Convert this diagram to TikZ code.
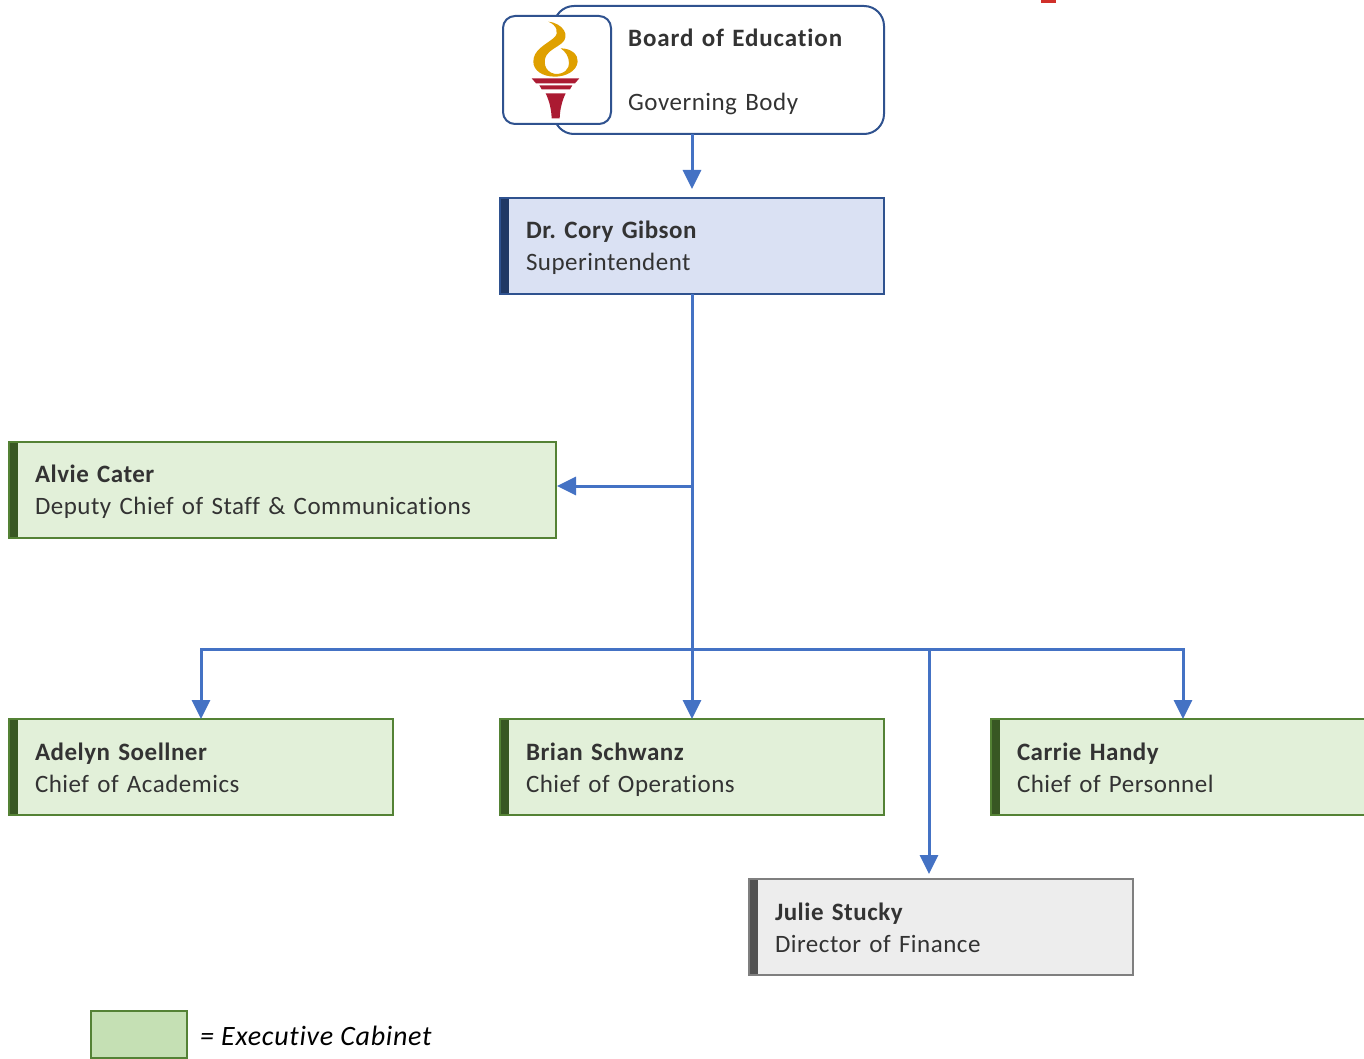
\documentclass[tikz,border=0pt]{standalone}
\usepackage{fontspec}
\setmainfont{Carlito}[LetterSpace=2,Ligatures=NoCommon]
\newfontfamily\legendfont{Carlito}[LetterSpace=2.6,Ligatures=NoCommon]
\usetikzlibrary{arrows.meta}
\definecolor{navyline}{HTML}{2F528F}
\definecolor{navyband}{HTML}{203864}
\definecolor{bluefill}{HTML}{DAE1F3}
\definecolor{greenline}{HTML}{548235}
\definecolor{greenband}{HTML}{385723}
\definecolor{greenfill}{HTML}{E2F0D9}
\definecolor{grayline}{HTML}{7F7F7F}
\definecolor{grayband}{HTML}{525252}
\definecolor{grayfill}{HTML}{EDEDED}
\definecolor{conn}{HTML}{4472C4}
\definecolor{inktext}{HTML}{333333}
\definecolor{flame}{HTML}{DFA000}
\definecolor{torchred}{HTML}{AB1A32}
\definecolor{legendfill}{HTML}{C5E0B4}
\definecolor{redmark}{HTML}{D0302A}
\tikzset{
  x=1pt,y=-1pt,
  card/.style n args={3}{draw=#1,line width=2pt,fill=#2,rectangle,outer sep=0pt,
    minimum width=384pt,minimum height=96pt,inner xsep=26pt,inner ysep=0pt,
    text width=332pt,align=left,text=inktext,
    text height=22.5pt,text depth=37.5pt,
    font=\fontsize{25}{32}\selectfont,
    path picture={\fill[#3] (path picture bounding box.north west) rectangle
      ([xshift=9pt]path picture bounding box.south west);}},
  bluecard/.style={card={navyline}{bluefill}{navyband}},
  greencard/.style={card={greenline}{greenfill}{greenband}},
  graycard/.style={card={grayline}{grayfill}{grayband}},
  lowrow/.style={text height=23.5pt,text depth=36.5pt},
  conn/.style={draw=conn,line width=3pt,-{Triangle[length=19pt,width=18pt]}},
  connplain/.style={draw=conn,line width=3pt},
}
\begin{document}
\begin{tikzpicture}
\useasboundingbox (0,0) rectangle (1364,1059);
\clip (0,0) rectangle (1364,1059);
% board
\node[draw=navyline,line width=2pt,fill=white,rounded corners=20pt,rectangle,outer sep=0pt,
  minimum width=330pt,minimum height=128pt] (board) at (719,70) {};
\node[draw=navyline,line width=2pt,fill=white,rounded corners=12pt,rectangle,outer sep=0pt,
  minimum width=108pt,minimum height=108pt] (logo) at (557,70) {};
\node[anchor=west,inner sep=0pt,text width=250pt,align=left,text=inktext,font=\fontsize{25}{32}\selectfont,
  text height=22.5pt,text depth=69.5pt] (boardtext) at (628,70)
  {{\addfontfeatures{LetterSpace=3.5}\textbf{Board of Education}}\\[0pt]\mbox{}\\[0pt]Governing Body};
% torch
\begin{scope}[shift={(500,10)},x=0.3333pt,y=-0.3333pt]
\fill[flame] (145,35) .. controls (190,40) and (212,78) .. (185,100)
  .. controls (170,112) and (150,120) .. (140,135)
  .. controls (130,150) and (130,185) .. (165,192)
  .. controls (195,193) and (207,175) .. (207,160)
  .. controls (207,140) and (197,125) .. (182,115)
  .. controls (215,115) and (235,135) .. (233,155)
  .. controls (230,185) and (195,200) .. (165,200)
  .. controls (125,200) and (100,180) .. (100,155)
  .. controls (100,120) and (135,105) .. (160,85)
  .. controls (180,70) and (170,45) .. (145,35) -- cycle;
\fill[torchred] (95,205) -- (238,205) -- (225,220) -- (108,220) -- cycle;
\fill[torchred] (118,226) -- (217,226) -- (210,238) -- (125,238) -- cycle;
\fill[torchred] (137,250) -- (197,250) .. controls (185,275) and (180,300) .. (179,325)
  -- (155,325) .. controls (154,300) and (149,275) .. (137,250) -- cycle;
\end{scope}
% cards
\node[bluecard] (sup) at (692,246) {\textbf{Dr.\ Cory Gibson}\\Superintendent};
\node[greencard,minimum width=547pt,text width=495pt] (alvie) at (282.5,490) {\textbf{Alvie Cater}\\Deputy Chief of Staff \& Communications};
\node[greencard,lowrow] (adelyn) at (201,767) {\textbf{Adelyn Soellner}\\Chief of Academics};
\node[greencard,lowrow] (brian) at (692,767) {\textbf{Brian Schwanz}\\Chief of Operations};
\node[greencard,lowrow] (carrie) at (1183,767) {\textbf{Carrie Handy}\\Chief of Personnel};
\node[graycard,lowrow] (julie) at (941,927) {\textbf{Julie Stucky}\\Director of Finance};
% junctions
\coordinate (jalvie) at (692,486);
\coordinate (jbus) at (692,649);
\coordinate (jleft) at (201,649);
\coordinate (jright) at (1183,649);
\coordinate (jfin) at (929,649);
\coordinate (alvieend) at (557,486);
\coordinate (julieend) at (929,874);
% connectors
\draw[conn,shorten >=9pt] (board.south -| sup.north) -- (sup.north);
\draw[connplain] (sup.south) -- (jbus);
\draw[conn] (jalvie) -- (alvieend);
\draw[conn] (jbus) -- (brian.north);
\draw[conn] (jleft) -- (adelyn.north);
\draw[conn] (jright) -- (carrie.north);
\draw[connplain,line cap=rect] (jleft) -- (jright);
\draw[conn] (jfin) -- (julieend);
% legend
\node[draw=greenline,line width=2pt,fill=legendfill,rectangle,outer sep=0pt,
  minimum width=96pt,minimum height=47pt] (legend) at (139,1034.5) {};
\node[anchor=west,inner sep=0pt,font=\legendfont\itshape\fontsize{28}{32}\selectfont] (legendtext) at (200,1036) {= Executive Cabinet};
% red mark
\fill[redmark] (1041,0) rectangle (1056,3);
\end{tikzpicture}
\end{document}
